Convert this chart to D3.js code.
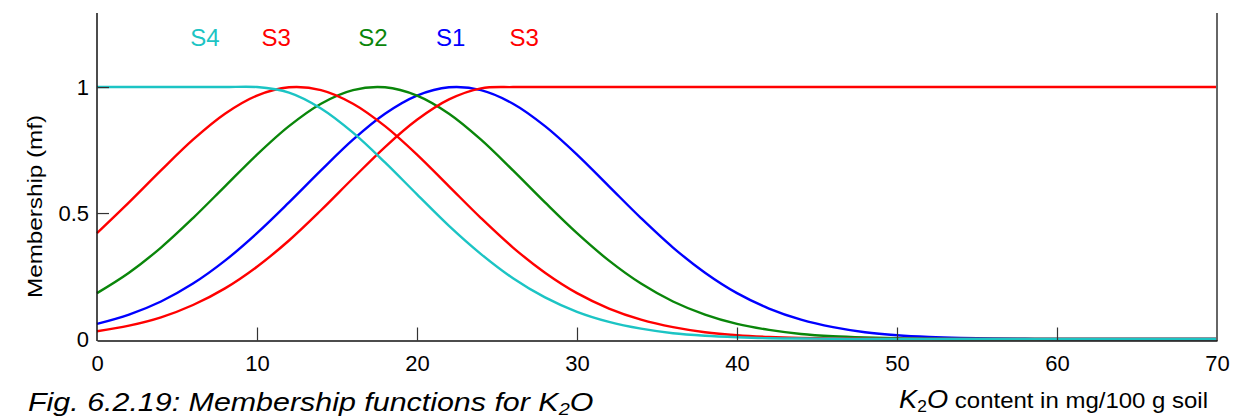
<!DOCTYPE html>
<html><head><meta charset="utf-8">
<script src="https://cdn.jsdelivr.net/npm/d3@7"></script>
<style>body{margin:0;background:#fff}svg{display:block}</style>
</head><body>
<svg id="chart" width="1243" height="418"></svg>
<script>
// ---- data ----
const xValues = [0,2,4,6,8,10,12,14,16,18,20,22,24,26,28,30,32,34,36,38,40,42,44,46,48,50,52,54,56,58,60,70];
const s4  = [1,1,1,1,1,1,0.978,0.915,0.819,0.701,0.574,0.449,0.337,0.241,0.165,0.108,0.068,0.041,0.023,0.013,0.007,0.003,0.002,0.001,0,0,0,0,0,0,0,0];
const s3a = [0.420,0.542,0.669,0.791,0.894,0.966,0.999,0.988,0.934,0.845,0.732,0.606,0.480,0.363,0.263,0.182,0.121,0.077,0.047,0.027,0.015,0.008,0.004,0.002,0.001,0,0,0,0,0,0,0];
const s2  = [0.182,0.263,0.363,0.480,0.606,0.732,0.845,0.934,0.988,0.999,0.966,0.894,0.791,0.669,0.542,0.420,0.311,0.220,0.149,0.097,0.060,0.036,0.020,0.011,0.006,0.003,0.001,0,0,0,0,0];
const s1  = [0.060,0.097,0.149,0.220,0.311,0.420,0.542,0.669,0.791,0.894,0.966,0.999,0.988,0.934,0.845,0.732,0.606,0.480,0.363,0.263,0.182,0.121,0.077,0.047,0.027,0.015,0.008,0.004,0.002,0.001,0,0];
const s3b = [0.031,0.053,0.086,0.135,0.201,0.287,0.391,0.511,0.638,0.762,0.870,0.951,0.995,1,1,1,1,1,1,1,1,1,1,1,1,1,1,1,1,1,1,1];
const seriesNames = ["S1","S3","S2","S3","S4"];
const xTicks = [0,10,20,30,40,50,60,70];
const yTicks = [0,0.5,1];
const yTickLabels = ["0","0.5","1"];

// ---- layout / style ----
const colors = {S1:"#0000ff", S2:"#0a860a", S3:"#ff0000", S4:"#1cc4c4"};
const series = [
  {name:"S1", values:s1},
  {name:"S2", values:s2},
  {name:"S3", values:s3b},
  {name:"S3", values:s3a},
  {name:"S4", values:s4}
];
const labelPos = [ // name, x in data units
  {name:"S4", at:6.75}, {name:"S3", at:11.2}, {name:"S2", at:17.25},
  {name:"S1", at:22.1}, {name:"S3", at:26.7}
];

const svg = d3.select("#chart");
const x = d3.scaleLinear().domain([0,70]).range([97,1217]);
const y = d3.scaleLinear().domain([0,1.294]).range([339,13]);
const font = "'Liberation Sans', Arial, Helvetica, sans-serif";

const line = d3.line()
  .x((d,i)=>x(xValues[i]))
  .y(d=>y(d))
  .curve(d3.curveCatmullRom.alpha(0.5));

svg.append("g").selectAll("path").data(series).join("path")
  .attr("d", d=>line(d.values))
  .attr("fill","none")
  .attr("stroke", d=>colors[d.name])
  .attr("stroke-width", 2.4);

// frame lines
svg.append("line").attr("x1",x(0)).attr("x2",x(0)).attr("y1",13).attr("y2",341)
  .attr("stroke","#111").attr("stroke-width",1.5);
svg.append("line").attr("x1",x(70)).attr("x2",x(70)).attr("y1",13).attr("y2",341)
  .attr("stroke","#666").attr("stroke-width",2);

// x axis (inner ticks)
const xAxis = d3.axisBottom(x).tickValues(xTicks).tickSize(-12).tickSizeOuter(0).tickPadding(15);
const gx = svg.append("g").attr("transform","translate(0,340.5)").call(xAxis);
gx.select(".domain").attr("stroke","#111").attr("stroke-width",1.5);
gx.selectAll(".tick line").attr("stroke","#333").attr("stroke-width",1.2)
  .attr("y2", d => (d===0||d===70) ? 0 : -13);
gx.selectAll(".tick text").attr("font-family",font).attr("font-size",22).attr("fill","#000")
  .attr("dy","0.7em");

// y axis (inner ticks)
const yAxis = d3.axisLeft(y).tickValues(yTicks).tickFormat((d,i)=>yTickLabels[i]).tickSize(-12).tickSizeOuter(0).tickPadding(8);
const gy = svg.append("g").attr("transform","translate(97,0)").call(yAxis);
gy.select(".domain").remove();
gy.selectAll(".tick line").attr("stroke","#333").attr("stroke-width",1.2)
  .attr("x2", d => d===0 ? 0 : 12);
gy.selectAll(".tick text").attr("font-family",font).attr("font-size",22).attr("fill","#000");

// series labels
svg.append("g").selectAll("text").data(labelPos).join("text")
  .attr("x", d=>x(d.at)).attr("y", 46)
  .attr("text-anchor","middle")
  .attr("font-family",font).attr("font-size",24)
  .attr("fill", d=>colors[d.name])
  .text(d=>d.name);

// y title
svg.append("text")
  .attr("transform","translate(42,206.5) rotate(-90)")
  .attr("text-anchor","middle")
  .attr("font-family",font).attr("font-size",20)
  .attr("textLength",183).attr("lengthAdjust","spacingAndGlyphs")
  .text("Membership (mf)");

// x title
const xt = svg.append("text").attr("transform","translate(1208,408) scale(1.09,1)").attr("text-anchor","end")
  .attr("font-family",font).attr("fill","#000");
xt.append("tspan").attr("font-style","italic").attr("font-size",25).text("K");
xt.append("tspan").attr("font-size",16).attr("dy",4).text("2");
xt.append("tspan").attr("font-style","italic").attr("font-size",25).attr("dy",-4).text("O");
xt.append("tspan").attr("font-size",22).text(" content in mg/100 g soil");

// caption
const cap = svg.append("text").attr("transform","translate(28,411) scale(1.17,1)")
  .attr("font-family",font).attr("font-style","italic").attr("fill","#000");
cap.append("tspan").attr("font-size",26).text("Fig. 6.2.19: Membership functions for K");
cap.append("tspan").attr("font-size",17).attr("dy",4).text("2");
cap.append("tspan").attr("font-size",26).attr("dy",-4).text("O");
</script>
</body></html>
